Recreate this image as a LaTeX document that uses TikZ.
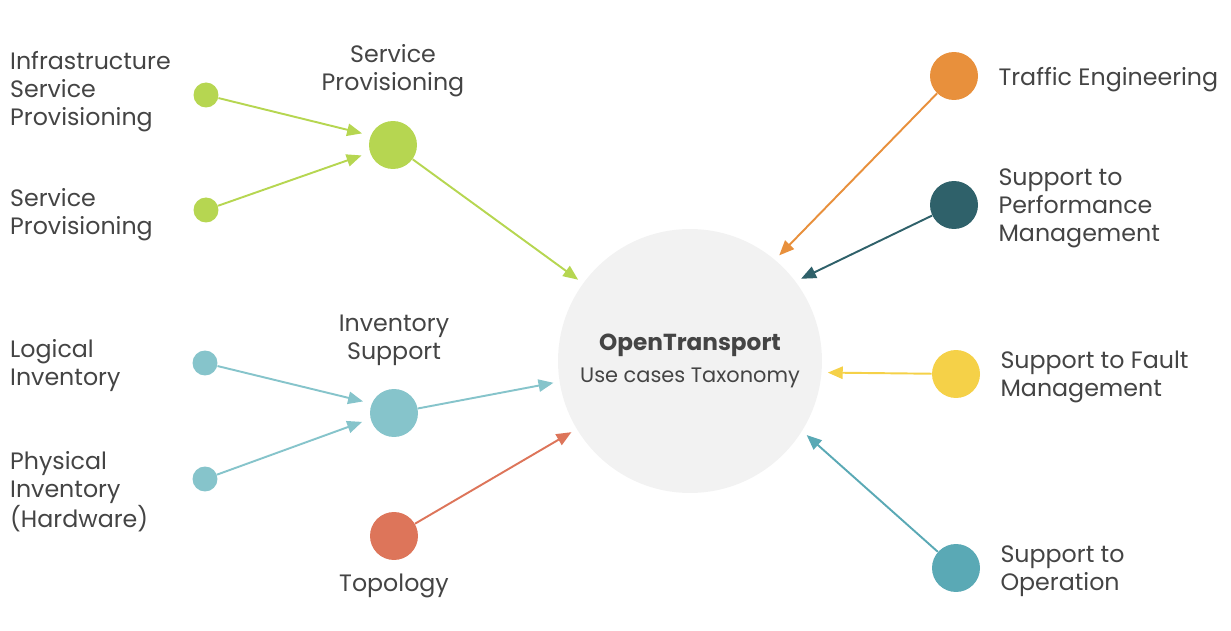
\documentclass[tikz,border=0pt]{standalone}
\usepackage{fontspec}
\setmainfont{Poppins}
\usetikzlibrary{arrows.meta}
\definecolor{provgreen}{HTML}{B6D651}
\definecolor{invblue}{HTML}{86C4CB}
\definecolor{topored}{HTML}{DD755A}
\definecolor{teorange}{HTML}{E8903C}
\definecolor{perfteal}{HTML}{2F616A}
\definecolor{faultyellow}{HTML}{F5D148}
\definecolor{opteal}{HTML}{5AA9B5}
\definecolor{hubgray}{HTML}{F2F2F2}
\definecolor{txtgray}{HTML}{444444}
\tikzset{
  leafdot/.style={circle, fill=#1, inner sep=0pt, minimum size=5mm},
  usedot/.style={circle, fill=#1, inner sep=0pt, minimum size=9.6mm},
  usearrow/.style={draw=#1, line width=1.1pt, -{Triangle[length=8.5pt,width=7pt]}, shorten >=3.4pt},
  leafarrow/.style={usearrow=#1, shorten >=5pt},
  lbl/.style={text=txtgray, font=\fontsize{13.5}{15.9}\selectfont, align=left, yshift=-0.65mm},
  midlbl/.style={text=txtgray, font=\fontsize{13.5}{15.9}\selectfont, align=center}
}
\begin{document}
\begin{tikzpicture}[x=0.02cm, y=-0.02cm]
\useasboundingbox (0,0) rectangle (1231,631);
% hub
\node[circle, fill=hubgray, inner sep=0pt, minimum size=52.8mm, align=center, text=txtgray, font=\fontsize{11.9}{18.7}\selectfont] (hub)at(690, 361) {{\fontsize{13.2}{18.7}\selectfont\textbf{OpenTransport}}\\Use cases Taxonomy};
% left side
\node[usedot=provgreen, label={[midlbl, label distance=3.5mm]above:{Service\\Provisioning}}] (SP)at(393, 145) {};
\node[leafdot=provgreen] (ISP)at(206, 95) {};
\node[leafdot=provgreen] (LSP)at(206, 210) {};
\node[usedot=invblue, label={[midlbl, label distance=3.3mm]above:{Inventory\\Support}}] (IS)at(394, 413) {};
\node[leafdot=invblue] (LI)at(205, 363) {};
\node[leafdot=invblue] (PI)at(205, 479) {};
\node[usedot=topored, label={[midlbl, label distance=1.5mm]below:{Topology}}] (TO)at(394, 536) {};
\node[lbl, anchor=west] (ISPt)at(4, 88) {Infrastructure\\Service\\Provisioning};
\node[lbl, anchor=west] (LSPt)at(4, 211) {Service\\Provisioning};
\node[lbl, anchor=west] (LIt)at(4, 362) {Logical\\Inventory};
\node[lbl, anchor=west] (PIt)at(4, 488) {Physical\\Inventory\\(Hardware)};
% right side
\node[usedot=teorange, label={[lbl, label distance=2.8mm]right:{Traffic Engineering}}] (TE)at(954, 76) {};
\node[usedot=perfteal, label={[lbl, label distance=2.8mm]right:{Support to\\Performance\\Management}}] (PM)at(954, 205) {};
\node[usedot=faultyellow, label={[lbl, label distance=2.8mm]right:{Support to Fault\\Management}}] (FM)at(956, 374) {};
\node[usedot=opteal, label={[lbl, label distance=2.8mm]right:{Support to\\Operation}}] (OP)at(956, 568) {};
% arrows
\draw[leafarrow=provgreen] (ISP) -- (SP.157);
\draw[leafarrow=provgreen] (LSP) -- (SP.198);
\draw[leafarrow=invblue] (LI) -- (IS.157);
\draw[leafarrow=invblue] (PI) -- (IS.194);
\draw[usearrow=provgreen] (SP) -- (hub.144);
\draw[usearrow=invblue] (IS) -- (hub.189);
\draw[usearrow=topored] (TO) -- (hub.211);
\draw[usearrow=teorange] (TE) -- (hub.50);
\draw[usearrow=perfteal] (PM) -- (hub.37);
\draw[usearrow=faultyellow] (FM) -- (hub.-5);
\draw[usearrow=opteal] (OP) -- (hub.-32);
\end{tikzpicture}
\end{document}
